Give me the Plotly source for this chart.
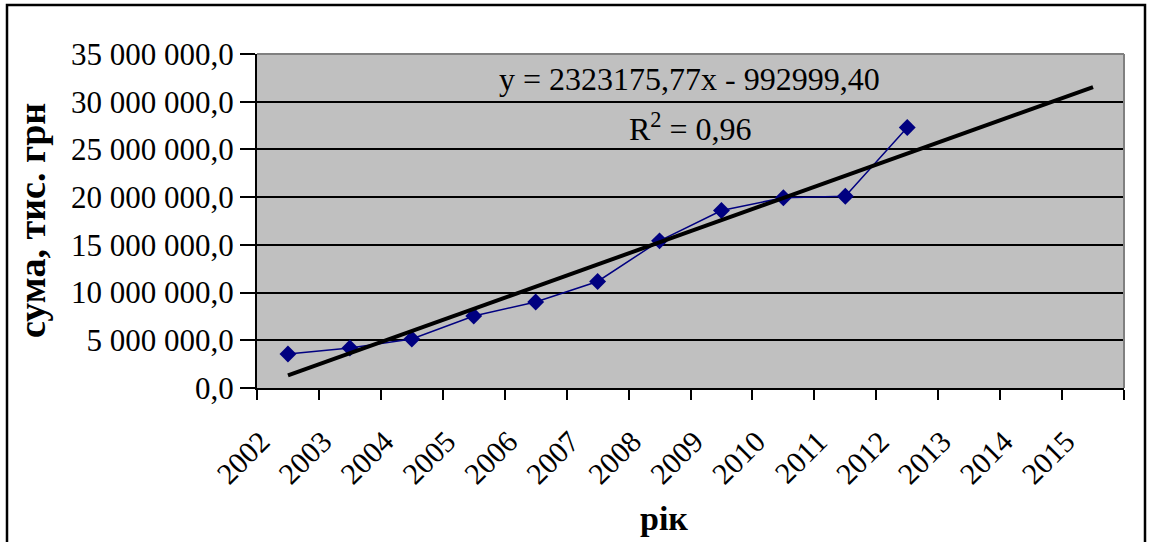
import plotly.graph_objects as go

years = [str(y) for y in range(2002, 2016)]
data_years = [str(y) for y in range(2002, 2013)]
values = [3560000, 4190000, 5130000, 7540000, 9010000, 11160000,
          15420000, 18600000, 19940000, 20100000, 27300000]
slope = 2323175.77
intercept = -992999.40
r2_text = "0,96"
y_ticks = [0, 5e6, 10e6, 15e6, 20e6, 25e6, 30e6, 35e6]
y_tick_labels = ["0,0", "5 000 000,0", "10 000 000,0", "15 000 000,0",
                 "20 000 000,0", "25 000 000,0", "30 000 000,0", "35 000 000,0"]

trend_y = [slope * (i + 1) + intercept for i in range(len(years))]

W, H = 1149, 542
L, R, T, B = 257, 25, 54, 154
pw, ph = W - L - R, H - T - B

FONT = "Liberation Serif, Times New Roman, serif"


def px(x):
    return (x - L) / pw


def py(y):
    return (H - B - y) / ph


fig = go.Figure()
fig.add_trace(go.Scatter(
    x=data_years, y=values, mode="lines+markers",
    line=dict(color="#000080", width=1.5),
    marker=dict(symbol="diamond", size=13, color="#000080"),
    showlegend=False, cliponaxis=False))
fig.add_trace(go.Scatter(
    x=years, y=trend_y, mode="lines",
    line=dict(color="black", width=4),
    showlegend=False))

fig.update_layout(
    width=W, height=H,
    margin=dict(l=L, r=R, t=T, b=B),
    paper_bgcolor="white", plot_bgcolor="#C0C0C0",
    font=dict(family=FONT, color="black", size=30),
    xaxis=dict(
        type="category", categoryorder="array", categoryarray=years,
        range=[-0.5, len(years) - 0.5],
        tickson="boundaries", ticks="outside", ticklen=10, tickwidth=2,
        tickcolor="black", showgrid=False, showline=True, linecolor="black",
        linewidth=2, tickangle=-45, tickfont=dict(size=30, family=FONT),
        ticklabelstandoff=22, ticklabelshift=-27,
        zeroline=False, mirror=False, fixedrange=True),
    yaxis=dict(
        range=[0, 35e6], tickvals=y_ticks, ticktext=y_tick_labels,
        ticks="outside", ticklen=15, tickwidth=2, tickcolor="black",
        showgrid=True, gridcolor="black", gridwidth=2,
        showline=True, linecolor="black", linewidth=2,
        tickfont=dict(size=31, family=FONT), ticklabelstandoff=0,
        zeroline=False, fixedrange=True),
    shapes=[
        dict(type="line", xref="paper", yref="paper", x0=0, x1=1, y0=1, y1=1,
             line=dict(color="#808080", width=2)),
        dict(type="line", xref="paper", yref="paper", x0=1, x1=1, y0=0, y1=1,
             line=dict(color="#808080", width=2)),
        dict(type="rect", xref="paper", yref="paper",
             x0=px(7), x1=px(1145), y0=py(560), y1=py(5),
             line=dict(color="black", width=2.5), fillcolor="rgba(0,0,0,0)",
             layer="above"),
    ],
    annotations=[
        dict(text="y = 2323175,77x - 992999,40", x=px(689), y=py(79),
             xref="paper", yref="paper", showarrow=False,
             font=dict(size=32, family=FONT), xanchor="center", yanchor="middle"),
        dict(text="R<sup>2</sup> = " + r2_text, x=px(690), y=py(127),
             xref="paper", yref="paper", showarrow=False,
             font=dict(size=32, family=FONT), xanchor="center", yanchor="middle"),
        dict(text="<b>рік</b>", x=px(664), y=py(518),
             xref="paper", yref="paper", showarrow=False,
             font=dict(size=34, family=FONT), xanchor="center", yanchor="middle"),
        dict(text="<b>сума, тис. грн</b>", x=px(32), y=py(221), textangle=-90,
             xref="paper", yref="paper", showarrow=False,
             font=dict(size=38, family=FONT), xanchor="center", yanchor="middle"),
    ],
)

fig.write_html("out.html", config={"displayModeBar": False},
               post_script="document.body.style.margin='0';")
